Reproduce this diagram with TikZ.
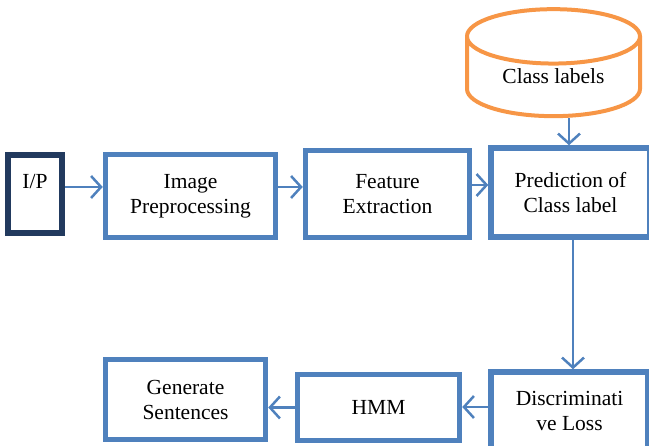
\documentclass[tikz,border=0pt]{standalone}
\usepackage{fontspec}
\setmainfont{Liberation Serif}
\usepackage{tikz}
\usetikzlibrary{arrows.meta,positioning,shapes.geometric,calc}
\usepackage{xcolor}
\definecolor{boxblue}{HTML}{4F81BD}
\definecolor{boxnavy}{HTML}{223A5E}
\definecolor{dborange}{HTML}{F79646}

\begin{document}
\begin{tikzpicture}[
        x=1pt,y=-1pt,
        box/.style={rectangle,draw=boxblue,line width=5.5pt,align=center,inner sep=2pt,
            font=\fontsize{21.5}{25}\selectfont},
        arrow/.style={-{Straight Barb[length=10pt,width=22pt]},line width=2.5pt,draw=boxblue}
    ]
        \useasboundingbox (0,0) rectangle (649,446);

        \node[box, draw=boxnavy, minimum width=54pt, minimum height=78pt] (ip) at (35,194) {I/P\\~};
        \node[box, minimum width=170pt, minimum height=83pt] (prep) at (190.5,196) {Image\\Preprocessing};
        \node[box, minimum width=164pt, minimum height=87pt] (feat) at (387.5,194) {Feature\\Extraction};
        \node[box, minimum width=159pt, minimum height=89pt] (pred) at (570.5,192.5) {Prediction of\\Class label};
        \node[cylinder, shape border rotate=90, draw=dborange, line width=4pt, aspect=0.5,
            minimum width=173pt, minimum height=107pt, font=\fontsize{21.5}{25}\selectfont] (labels) at (553.5,81) {\raisebox{9pt}{Class labels}};

        \node[box, minimum width=157pt, minimum height=78pt] (loss) at (569.5,411) {Discriminati\\ve Loss};
        \node[box, minimum width=162pt, minimum height=66pt] (hmm) at (378.5,407.5) {HMM};
        \node[box, minimum width=160pt, minimum height=80pt] (gen) at (185.5,399.5) {Generate\\Sentences};

        \draw[arrow] ([yshift=7pt]ip.east) -- ([yshift=7pt]ip.east -| prep.west);
        \draw[arrow] ([yshift=9pt]prep.east) -- ([yshift=9pt]prep.east -| feat.west);
        \draw[arrow] ([yshift=9pt]feat.east) -- ([yshift=9pt]feat.east -| pred.west);
        \draw[arrow] (labels.bottom -| 569,0) -- (pred.north -| 569,0);
        \draw[arrow] (pred.south -| 573,0) -- (loss.north -| 573,0);
        \draw[arrow] ([yshift=4pt]loss.west) -- ([yshift=4pt]loss.west -| hmm.east);
        \draw[arrow] (hmm.west) -- (hmm.west -| gen.east);
    \end{tikzpicture}
\end{document}
